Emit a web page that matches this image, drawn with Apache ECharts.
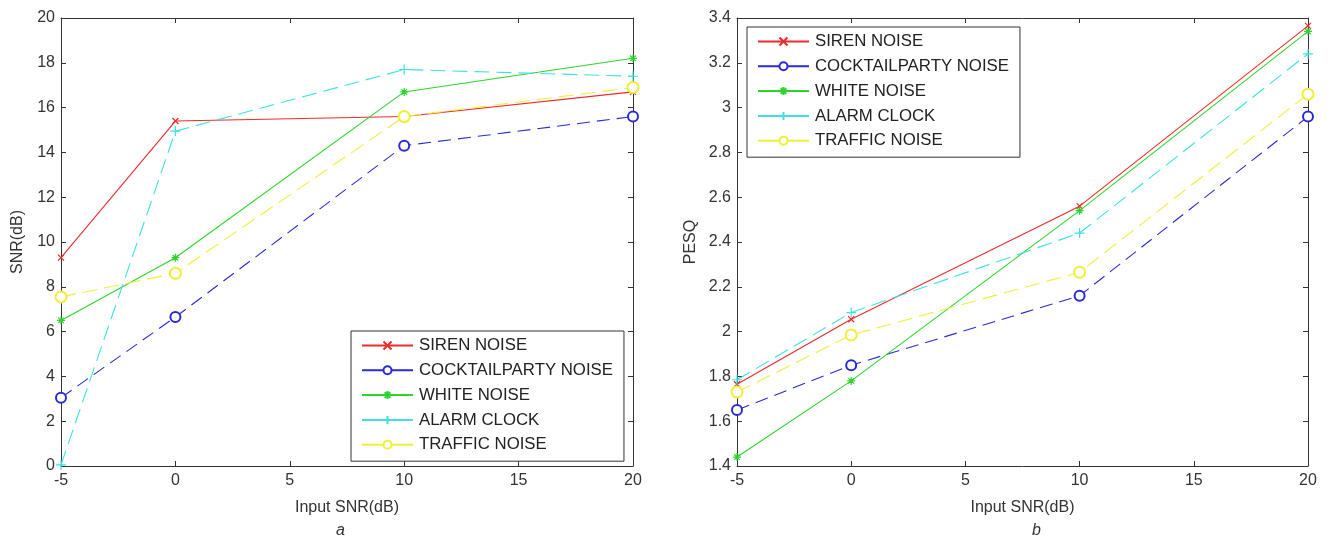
<!DOCTYPE html>
<html>
<head>
<meta charset="utf-8">
<script src="https://cdn.jsdelivr.net/npm/echarts@6/dist/echarts.min.js"></script>
<style>
  html, body { margin: 0; padding: 0; background: #fff; }
  #chart { width: 1333px; height: 539px; }
</style>
</head>
<body>
<div id="chart"></div>
<script>
// x values (input SNR, dB)
const inputSnr = [-5, 0, 10, 20];
const noiseNames = ['SIREN NOISE', 'COCKTAILPARTY NOISE', 'WHITE NOISE', 'ALARM CLOCK', 'TRAFFIC NOISE'];

// panel a: output SNR (dB)
const snrSiren = [9.3, 15.4, 15.6, 16.7];
const snrCocktail = [3.05, 6.65, 14.3, 15.6];
const snrWhite = [6.5, 9.3, 16.7, 18.2];
const snrAlarm = [0.05, 14.95, 17.7, 17.4];
const snrTraffic = [7.55, 8.6, 15.6, 16.9];

// panel b: PESQ
const pesqSiren = [1.765, 2.055, 2.56, 3.365];
const pesqCocktail = [1.65, 1.85, 2.16, 2.96];
const pesqWhite = [1.44, 1.78, 2.54, 3.34];
const pesqAlarm = [1.785, 2.085, 2.44, 3.24];
const pesqTraffic = [1.73, 1.985, 2.265, 3.06];

const snrRange = [0, 20, 2];
const pesqRange = [1.4, 3.4, 0.2];
const xRange = [-5, 20, 5];

// marker shapes like matlab
const X_MARK = 'path://M0,0L10,10M10,0L0,10';
const PLUS_MARK = 'path://M5,0L5,10M0,5L10,5';
const STAR_MARK = 'path://M5,0L5,10M0,5L10,5M1.5,1.5L8.5,8.5M8.5,1.5L1.5,8.5';

const styles = [
  { color: '#ee2a2a', symbol: X_MARK, size: 6, dash: 'solid' },
  { color: '#2a2ad6', symbol: 'emptyCircle', size: 10, dash: [13, 7] },
  { color: '#2ed42e', symbol: STAR_MARK, size: 8, dash: 'solid' },
  { color: '#3ee0e0', symbol: PLUS_MARK, size: 10, dash: [15, 7] },
  { color: '#efef3a', symbol: 'emptyCircle', size: 11, dash: [15, 7] }
];

const FONT = 'Liberation Sans, Arial, sans-serif';
const AX = '#333';

function pairs(ys) {
  return inputSnr.map((x, i) => [x, ys[i]]);
}

function makeSeries(lists, gridIdx) {
  return lists.map((ys, i) => {
    const s = styles[i];
    return {
      name: noiseNames[i],
      type: 'line',
      xAxisIndex: gridIdx * 2,
      yAxisIndex: gridIdx * 2,
      data: pairs(ys),
      symbol: s.symbol,
      symbolSize: s.size,
      showAllSymbol: true,
      animation: false,
      lineStyle: { color: s.color, width: 1.1, type: s.dash },
      itemStyle: { color: s.color, borderColor: s.color, borderWidth: 1.2 },
      emphasis: { disabled: true }
    };
  });
}

function xAxes(gridIdx) {
  const base = {
    type: 'value', gridIndex: gridIdx,
    min: xRange[0], max: xRange[1], interval: xRange[2],
    splitLine: { show: false },
    axisLine: { onZero: false, lineStyle: { color: AX, width: 1 } },
    axisTick: { inside: true, length: 5, lineStyle: { color: AX } }
  };
  return [
    Object.assign({}, base, {
      position: 'bottom',
      name: 'Input SNR(dB)', nameLocation: 'middle', nameGap: 34,
      nameTextStyle: { fontFamily: FONT, fontSize: 16, color: '#333' },
      axisLabel: { fontFamily: FONT, fontSize: 16, color: '#333', margin: 7 }
    }),
    Object.assign({}, base, { position: 'top', axisLabel: { show: false } })
  ];
}

function yAxes(gridIdx, range, title, gap) {
  const base = {
    type: 'value', gridIndex: gridIdx,
    min: range[0], max: range[1], interval: range[2],
    splitLine: { show: false },
    axisLine: { onZero: false, lineStyle: { color: AX, width: 1 } },
    axisTick: { inside: true, length: 5, lineStyle: { color: AX } }
  };
  return [
    Object.assign({}, base, {
      position: 'left',
      name: title, nameLocation: 'middle', nameGap: gap,
      nameTextStyle: { fontFamily: FONT, fontSize: 16, color: '#333' },
      axisLabel: { fontFamily: FONT, fontSize: 16, color: '#333', margin: 6 }
    }),
    Object.assign({}, base, { position: 'right', axisLabel: { show: false } })
  ];
}

function legendAt(left, top) {
  return {
    orient: 'vertical',
    left: left, top: top,
    data: noiseNames,
    itemWidth: 51, itemHeight: 10, itemGap: 7.8,
    padding: [6, 11, 8, 10],
    backgroundColor: '#fff',
    borderColor: '#333', borderWidth: 1,
    selectedMode: false,
    lineStyle: { type: 'solid' },
    textStyle: { fontFamily: FONT, fontSize: 16.8, lineHeight: 17, color: '#222', padding: [0, 0, 0, 1] }
  };
}

const chart = echarts.init(document.getElementById('chart'));

const seriesA = makeSeries([snrSiren, snrCocktail, snrWhite, snrAlarm, snrTraffic], 0);
const seriesB = makeSeries([pesqSiren, pesqCocktail, pesqWhite, pesqAlarm, pesqTraffic], 1);

chart.setOption({
  animation: false,
  grid: [
    { left: 61, right: 700, top: 18, bottom: 73 },
    { left: 737, right: 25, top: 18, bottom: 73 }
  ],
  xAxis: xAxes(0).concat(xAxes(1)),
  yAxis: yAxes(0, snrRange, 'SNR(dB)', 35).concat(yAxes(1, pesqRange, 'PESQ', 38)),
  legend: [legendAt(351, 331), legendAt(747, 27)],
  title: [
    { text: 'a', left: 331, top: 518, textStyle: { fontFamily: FONT, fontSize: 16, fontStyle: 'italic', fontWeight: 'normal', color: '#333' } },
    { text: 'b', left: 1027, top: 518, textStyle: { fontFamily: FONT, fontSize: 16, fontStyle: 'italic', fontWeight: 'normal', color: '#333' } }
  ],
  series: seriesA.concat(seriesB)
});
</script>
</body>
</html>
